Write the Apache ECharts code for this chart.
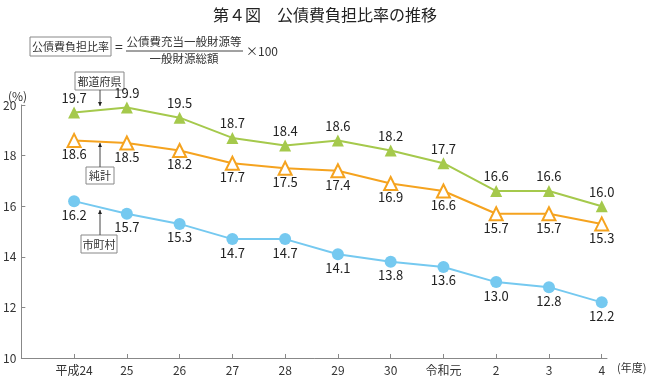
<!DOCTYPE html>
<html>
<head>
<meta charset="utf-8">
<script src="https://cdn.jsdelivr.net/npm/echarts@6/dist/echarts.min.js"></script>
<style>
html, body { margin: 0; padding: 0; background: #fff; }
#container { width: 650px; height: 376px; }
</style>
</head>
<body>
<div id="container"></div>
<script>
// 年度
var years = ['平成24', '25', '26', '27', '28', '29', '30', '令和元', '2', '3', '4'];
// 都道府県
var pref  = [19.7, 19.9, 19.5, 18.7, 18.4, 18.6, 18.2, 17.7, 16.6, 16.6, 16.0];
// 純計
var total = [18.6, 18.5, 18.2, 17.7, 17.5, 17.4, 16.9, 16.6, 15.7, 15.7, 15.3];
// 市町村
var city  = [16.2, 15.7, 15.3, 14.7, 14.7, 14.1, 13.8, 13.6, 13.0, 12.8, 12.2];

var font = "'Noto Sans CJK JP', 'Noto Sans', sans-serif";
var idx = [];
for (var i in years) idx.push(Number(i));

function pairs(arr) {
    var out = [];
    for (var i in arr) out.push([Number(i), arr[i]]);
    return out;
}

var dom   = document.getElementById("container");
var chart = echarts.init(dom);

function box(x, y, w, h, text) {
    return [
        {type: 'rect', shape: {x: x, y: y, width: w, height: h},
         style: {fill: '#fff', stroke: '#888', lineWidth: 1}},
        {type: 'text', x: x + w / 2, y: y + h / 2 + 0.5,
         style: {text: text, font: '11px ' + font, fill: '#333', align: 'center', verticalAlign: 'middle'}}
    ];
}
function arrow(x, y1, y2) {
    var d = y2 > y1 ? -4 : 4;
    return [
        {type: 'line', shape: {x1: x, y1: y1, x2: x, y2: y2}, style: {stroke: '#444', lineWidth: 1}},
        {type: 'polygon', shape: {points: [[x, y2], [x - 2, y2 + d], [x + 2, y2 + d]]}, style: {fill: '#222'}}
    ];
}

var g = [].concat(
    box(30, 37, 81, 19, '公債費負担比率'),
    box(75, 72, 49, 18, '都道府県'),
    box(86, 167, 28, 17, '純計'),
    box(81, 235, 36, 18, '市町村'),
    arrow(100, 90, 106),
    arrow(100, 167, 143),
    arrow(100, 235, 210),
    [
        {type: 'text', x: 115, y: 47, style: {text: '=', font: '14px ' + font, fill: '#333', verticalAlign: 'middle'}},
        {type: 'text', x: 184, y: 42, style: {text: '公債費充当一般財源等', font: '11.5px ' + font, fill: '#333', align: 'center', verticalAlign: 'middle'}},
        {type: 'line', shape: {x1: 126, y1: 51, x2: 243, y2: 51}, style: {stroke: '#444', lineWidth: 1}},
        {type: 'text', x: 184, y: 59, style: {text: '一般財源総額', font: '11.5px ' + font, fill: '#333', align: 'center', verticalAlign: 'middle'}},
        {type: 'text', x: 246, y: 51, style: {text: '×100', font: '12px ' + font, fill: '#333', verticalAlign: 'middle'}},
        {type: 'text', x: 8, y: 96, style: {text: '(%)', font: '12px ' + font, fill: '#333', verticalAlign: 'middle'}},
        {type: 'text', x: 617, y: 368, style: {text: '(年度)', font: '11px ' + font, fill: '#333', verticalAlign: 'middle'}}
    ]
);

option = {
    animation: false,
    title: {
        text: '第４図　公債費負担比率の推移',
        left: 'center',
        top: 2,
        textStyle: {fontFamily: font, fontSize: 16, fontWeight: 'normal', color: '#222'}
    },
    grid: {left: 20, right: 43, top: 105, bottom: 16},
    xAxis: {
        type: 'value',
        min: -1,
        max: 10.1,
        axisLine: {onZero: false, lineStyle: {color: '#888'}},
        axisTick: {inside: true, length: 4, customValues: idx, lineStyle: {color: '#888'}},
        axisLabel: {
            customValues: idx,
            margin: 6,
            fontFamily: font, fontSize: 12, color: '#333',
            formatter: function (v) { return years[Math.round(v)]; }
        },
        splitLine: {show: false}
    },
    yAxis: {
        type: 'value',
        min: 10,
        max: 20,
        interval: 2,
        axisLine: {show: true, onZero: false, lineStyle: {color: '#888'}},
        axisTick: {show: true, inside: true, length: 4, lineStyle: {color: '#888'}},
        axisLabel: {margin: 5, fontFamily: font, fontSize: 12, color: '#333'},
        splitLine: {show: false}
    },
    series: [
        {
            name: '都道府県', type: 'line', data: pairs(pref),
            symbol: 'triangle', symbolSize: 12,
            lineStyle: {color: '#a5c94c', width: 2},
            itemStyle: {color: '#a5c94c'},
            label: {show: true, position: 'top', distance: 2, fontFamily: font, fontSize: 13, color: '#222',
                    formatter: function (p) { return p.value[1].toFixed(1); }}
        },
        {
            name: '純計', type: 'line', data: pairs(total),
            symbol: 'triangle', symbolSize: 13,
            lineStyle: {color: '#f5a31f', width: 2},
            itemStyle: {color: '#fff', borderColor: '#f5a31f', borderWidth: 2},
            label: {show: true, position: 'bottom', distance: 0, fontFamily: font, fontSize: 13, color: '#222',
                    formatter: function (p) { return p.value[1].toFixed(1); }}
        },
        {
            name: '市町村', type: 'line', data: pairs(city),
            symbol: 'circle', symbolSize: 12,
            lineStyle: {color: '#75c9f0', width: 2},
            itemStyle: {color: '#75c9f0'},
            label: {show: true, position: 'bottom', distance: 1, fontFamily: font, fontSize: 13, color: '#222',
                    formatter: function (p) { return p.value[1].toFixed(1); }}
        }
    ],
    graphic: g
};

chart.setOption(option, true);
</script>
</body>
</html>
